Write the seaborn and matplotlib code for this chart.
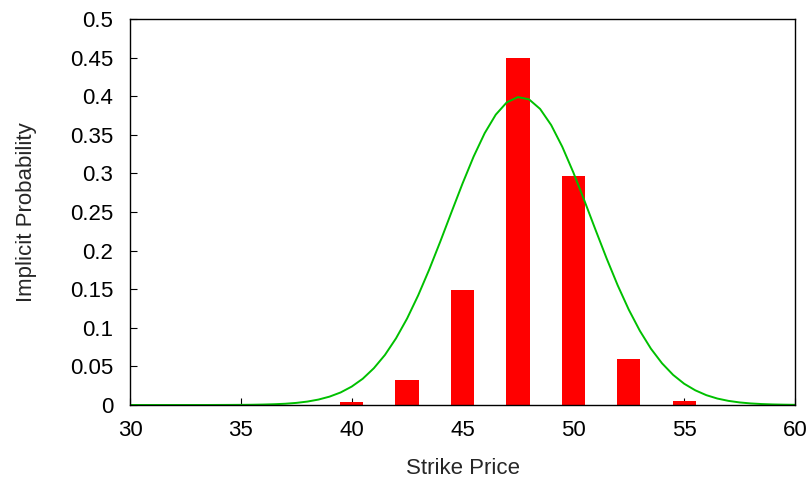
import numpy as np
import pandas as pd
import matplotlib
matplotlib.use("Agg")
import matplotlib.pyplot as plt
import seaborn as sns

# bars: implied probability per strike
strikes = [30, 32.5, 35, 37.5, 40, 42.5, 45, 47.5, 50, 52.5, 55, 57.5, 60]
probs = [0.0, 0.0, 0.0, 0.0, 0.0045, 0.033, 0.149, 0.449, 0.297, 0.059, 0.0055, 0.0, 0.0]

# green fitted curve, sampled every 0.5 from 30 to 60
curve_x = np.arange(30, 60.5, 0.5)
curve_y = [0.0, 0.0, 0.0, 0.0, 0.0, 0.0, 0.0, 0.0, 0.00005, 0.0001,
           0.00017, 0.0003, 0.00056, 0.00097, 0.0016, 0.0027, 0.0044, 0.0070,
           0.0108, 0.0162, 0.0238, 0.0340, 0.0476, 0.0648, 0.0863, 0.1120,
           0.1420, 0.1756, 0.2119, 0.2496, 0.2868, 0.3217, 0.3521, 0.3761,
           0.3921, 0.3988, 0.3959, 0.3835, 0.3626, 0.3345, 0.3012, 0.2646,
           0.2269, 0.1899, 0.1550, 0.1235, 0.0961, 0.0729, 0.0540, 0.0390,
           0.0275, 0.0190, 0.0127, 0.0083, 0.0053, 0.0033, 0.0020, 0.0012,
           0.0007, 0.0004, 0.0002]

xticks = [30, 35, 40, 45, 50, 55, 60]
yticks = [0, 0.05, 0.1, 0.15, 0.2, 0.25, 0.3, 0.35, 0.4, 0.45, 0.5]
ytick_labels = ["0", "0.05", "0.1", "0.15", "0.2", "0.25", "0.3", "0.35", "0.4", "0.45", "0.5"]

sns.set_style("ticks")
plt.rcParams["font.family"] = ["Liberation Sans", "DejaVu Sans"]

bars = pd.DataFrame({"Strike": strikes, "Prob": probs})
curve = pd.DataFrame({"Strike": curve_x, "Prob": curve_y})

fig = plt.figure(figsize=(8.11, 4.82), dpi=100)
ax = fig.add_axes([0.1603, 0.1598, 0.82, 0.8008])

sns.barplot(data=bars, x="Strike", y="Prob", native_scale=True, width=0.42,
            color="#ff0000", saturation=1, errorbar=None, linewidth=0, ax=ax)
sns.lineplot(data=curve, x="Strike", y="Prob", color="#00c000", linewidth=1.4, ax=ax)

ax.set_xlim(30, 60)
ax.set_ylim(0, 0.5)
ax.set_xticks(xticks)
ax.set_xticklabels([str(t) for t in xticks])
ax.set_yticks(yticks)
ax.set_yticklabels(ytick_labels)
ax.tick_params(direction="in", length=5, width=0.8, labelsize=16, colors="black")
ax.tick_params(axis="x", pad=11)
ax.tick_params(axis="y", pad=12)
for s in ax.spines.values():
    s.set_visible(True)
    s.set_color("black")
    s.set_linewidth(1.0)

ax.set_xlabel("Strike Price", fontsize=16, labelpad=12)
ax.set_ylabel("Implicit Probability", fontsize=16, labelpad=24)

fig.savefig("out.png", dpi=100)
